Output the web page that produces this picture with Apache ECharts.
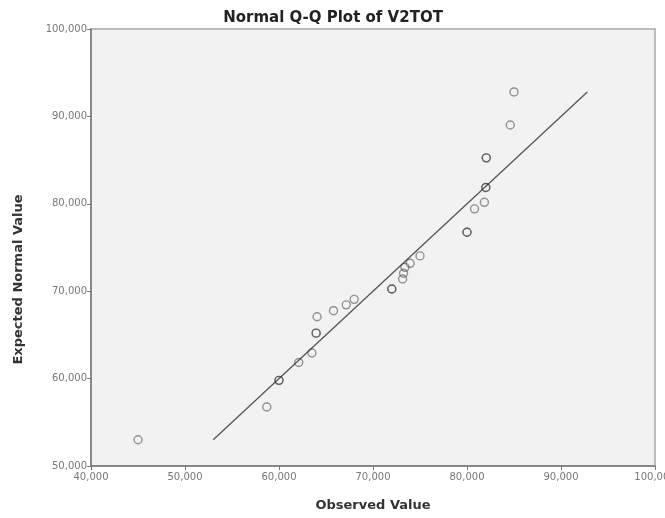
<!DOCTYPE html>
<html>
<head>
<meta charset="utf-8">
<script src="https://cdn.jsdelivr.net/npm/echarts@6/dist/echarts.min.js"></script>
<style>
  html, body { margin: 0; padding: 0; background: #fff; }
  #chart { width: 665px; height: 518px; }
</style>
</head>
<body>
<div id="chart"></div>
<script>
// observed values and their expected normal values (duplicates overlap -> darker rings)
var observed = [45000, 58700, 60000, 60000, 62100, 63500, 63950, 63950, 64050, 65800,
                67150, 68000, 72000, 72000, 73150, 73250, 73400, 73950, 75000, 80000,
                80000, 80800, 81850, 82000, 82000, 82050, 82050, 84600, 85000];
var expected = [53000, 56750, 59800, 59800, 61850, 62930, 65200, 65200, 67080, 67770,
                68440, 69070, 70250, 70250, 71400, 72050, 72730, 73190, 74040, 76740,
                76740, 79420, 80170, 81870, 81870, 85260, 85260, 89020, 92800];
// reference line y = x
var refLine = [53000, 92800];

var points = observed.map(function (v, i) { return [v, expected[i]]; });

function fmt(v) {
  return String(v).replace(/\B(?=(\d{3})+(?!\d))/g, ',');
}

var myChart = echarts.init(document.getElementById('chart'));
myChart.setOption({
  animation: false,
  backgroundColor: '#fff',
  title: {
    text: 'Normal Q-Q Plot of V2TOT',
    left: 328,
    top: 6,
    textAlign: 'center',
    textStyle: { fontFamily: 'DejaVu Sans', fontSize: 15, fontWeight: 'bold', color: '#222' }
  },
  grid: {
    left: 91, right: 10, top: 29, bottom: 52,
    outerBoundsMode: 'none',
    containLabel: false,
    show: true,
    backgroundColor: '#f2f2f2',
    borderColor: '#a8a8a8',
    borderWidth: 1.5
  },
  xAxis: {
    type: 'value',
    min: 40000, max: 100000, interval: 10000,
    name: 'Observed Value',
    nameLocation: 'middle',
    nameGap: 33,
    nameTextStyle: { fontFamily: 'DejaVu Sans', fontSize: 13, fontWeight: 'bold', color: '#333' },
    axisLine: { lineStyle: { color: '#777', width: 1.5 } },
    axisTick: { length: 4, lineStyle: { color: '#777' } },
    axisLabel: { formatter: fmt, color: '#777', fontFamily: 'DejaVu Sans', fontSize: 10, margin: 6 },
    splitLine: { show: false }
  },
  yAxis: {
    type: 'value',
    min: 50000, max: 100000, interval: 10000,
    name: 'Expected Normal Value',
    nameLocation: 'middle',
    nameGap: 66,
    nameTextStyle: { fontFamily: 'DejaVu Sans', fontSize: 13, fontWeight: 'bold', color: '#333',
                     padding: [0, 0, 0, -64] },
    axisLine: { lineStyle: { color: '#777', width: 1.5 } },
    axisTick: { length: 4, lineStyle: { color: '#777' } },
    axisLabel: { formatter: fmt, color: '#777', fontFamily: 'DejaVu Sans', fontSize: 10, margin: 4 },
    splitLine: { show: false }
  },
  series: [
    {
      type: 'line',
      data: [[refLine[0], refLine[0]], [refLine[1], refLine[1]]],
      showSymbol: false,
      silent: true,
      lineStyle: { color: '#555', width: 1.3 },
      z: 1
    },
    {
      type: 'scatter',
      data: points,
      symbol: 'circle',
      symbolSize: 8,
      itemStyle: { color: 'rgba(0,0,0,0)', borderColor: 'rgba(40,40,40,0.6)', borderWidth: 1.4 },
      z: 2
    }
  ]
});
</script>
</body>
</html>
